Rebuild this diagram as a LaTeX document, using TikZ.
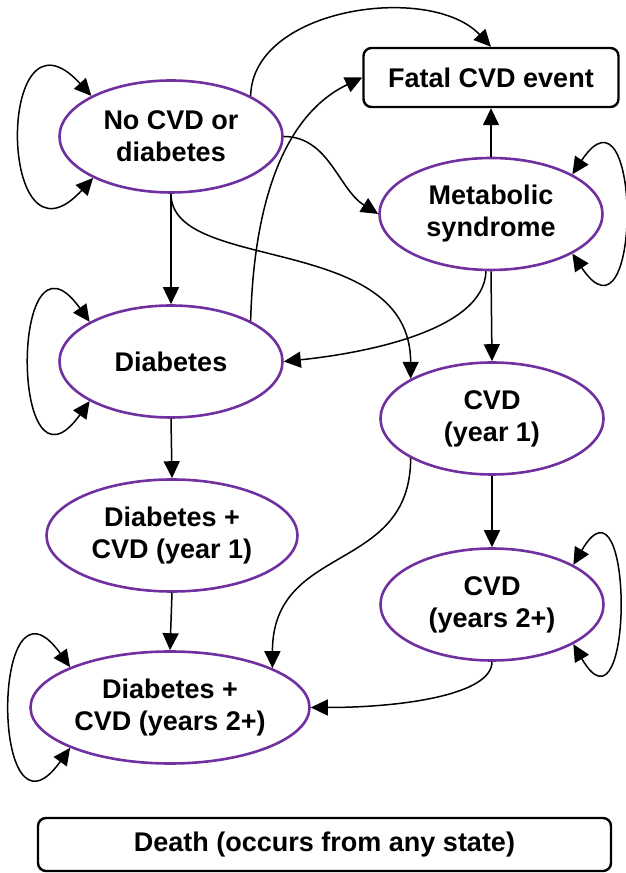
\documentclass[tikz,border=0pt]{standalone}
\usepackage{fontspec}
\setmainfont{Liberation Sans}
\usetikzlibrary{shapes.geometric,arrows.meta}
\definecolor{statepurple}{RGB}{112,48,160}

\begin{document}
\begin{tikzpicture}[x=1pt,y=1pt,
    state/.style={ellipse,draw=statepurple,line width=2.6pt,inner sep=0pt,
        minimum width=223pt,minimum height=112pt,align=center,
        font=\bfseries\fontsize{27}{32}\selectfont},
    endbox/.style={rectangle,draw,rounded corners=8pt,line width=2.4pt,
        inner sep=0pt,font=\bfseries\fontsize{27}{32}\selectfont},
    trans/.style={line width=1.5pt,-{Triangle[length=17pt,width=16pt]}},
    selfloop/.style={line width=1.5pt,
        {Triangle[length=17pt,width=16pt]}-{Triangle[length=17pt,width=16pt]}}]
    \useasboundingbox (0,0) rectangle (626,873);

    \node[state] (nocvd) at (171,736.5) {No CVD or\\diabetes};
    \node[endbox,minimum width=255pt,minimum height=59pt] (fatal) at (491,795.5) {Fatal CVD event};
    \node[state] (metab) at (491,659) {Metabolic\\syndrome};
    \node[state] (diab) at (171,511.5) {Diabetes};
    \node[state] (cvd1) at (492,454.5) {CVD\\(year 1)};
    \node[state,minimum width=251pt] (dcvd1) at (172,337.5) {Diabetes +\\CVD (year 1)};
    \node[state] (cvd2) at (492,268.5) {CVD\\(years 2+)};
    \node[state,minimum width=279pt,inner xsep=-6pt] (dcvd2) at (170,165.5) {Diabetes +\\CVD (years 2+)};
    \node[endbox,minimum width=573pt,minimum height=53pt] (death) at (324.5,28.5) {Death (occurs from any state)};

    \draw[trans] (nocvd.27) .. controls +(2,89) and +(-60,64) .. (fatal.north);
    \draw[trans] (nocvd.east) .. controls +(45,0) and +(-40,25) .. (metab.west);
    \draw[trans] (nocvd.south) -- (diab.north);
    \draw[trans] (nocvd.south) .. controls +(0,-80) and +(0,147) .. (cvd1.154);
    \draw[trans] (diab.27) .. controls +(4,149) and +(-63,-30) .. (fatal.west);
    \draw[trans] (metab.north) -- (fatal.south);
    \draw[trans] (metab.265) .. controls +(-2,-60) and +(78,8) .. (diab.east);
    \draw[trans] (metab.south) -- (cvd1.north);
    \draw[trans] (diab.south) -- (dcvd1.north);
    \draw[trans] (cvd1.206) .. controls +(0,-116) and +(0,126) .. (dcvd2.21);
    \draw[trans] (cvd1.south) -- (cvd2.north);
    \draw[trans] (dcvd1.south) -- (dcvd2.north);
    \draw[trans] (cvd2.south) .. controls +(0,-33) and +(91,0) .. (dcvd2.east);

    \draw[selfloop] (nocvd.153) .. controls +(-96,105) and +(-96,-105) .. (nocvd.208);
    \draw[selfloop] (diab.154) .. controls +(-80,112) and +(-80,-112) .. (diab.206);
    \draw[selfloop] (dcvd2.158) .. controls +(-80,112) and +(-80,-112) .. (dcvd2.202);
    \draw[selfloop] (metab.26) .. controls +(70,105) and +(70,-105) .. (metab.334);
    \draw[selfloop] (cvd2.26) .. controls +(61,105) and +(61,-105) .. (cvd2.334);
\end{tikzpicture}
\end{document}
